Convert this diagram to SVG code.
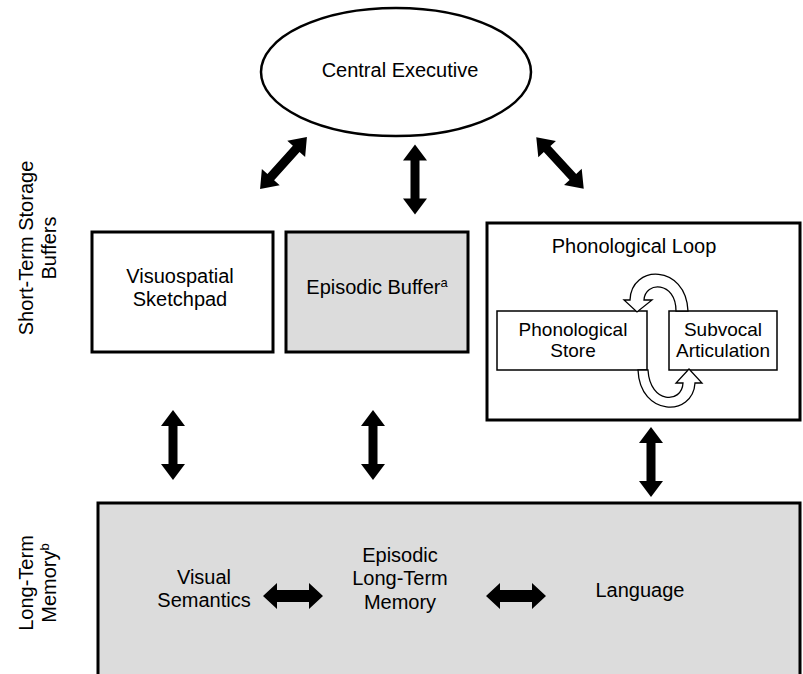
<svg xmlns="http://www.w3.org/2000/svg" xmlns:xlink="http://www.w3.org/1999/xlink" width="803" height="674" viewBox="0 0 803 674">
<style>
text{font-family:"Liberation Sans",Arial,sans-serif;font-size:20px;fill:#000;text-anchor:middle}
.sm{font-size:19px}
.box{stroke:#000;stroke-width:3;fill:#fff}
.grey{fill:#dcdcdc}
.inner{stroke:#000;stroke-width:1.5;fill:#fff}
.loop{stroke:#000;stroke-width:1.3;fill:#fff;stroke-linejoin:miter}
.arr{fill:#000}
</style>
<defs>
<path id="dbl" d="M0,-35 L12,-19 L4.5,-19 L4.5,19 L12,19 L0,35 L-12,19 L-4.5,19 L-4.5,-19 L-12,-19 Z"/>
<path id="dblh" d="M-30,0 L-16,-13 L-16,-6 L16,-6 L16,-13 L30,0 L16,13 L16,6 L-16,6 L-16,13 Z"/>
</defs>
<g id="central-executive">
<ellipse cx="396" cy="72" rx="135" ry="64" fill="#fff" stroke="#000" stroke-width="2.5"/>
<text x="400" y="77">Central Executive</text>
</g>
<g id="stm-label">
<text transform="translate(33,248) rotate(-90)" font-size="21">Short-Term Storage</text>
<text transform="translate(56,248) rotate(-90)" font-size="21">Buffers</text>
</g>
<g id="ltm-label">
<text transform="translate(33,583) rotate(-90)">Long-Term</text>
<text transform="translate(56,583) rotate(-90)">Memory<tspan font-size="13" dy="-7">b</tspan></text>
</g>
<g id="visuospatial">
<rect class="box" x="92" y="232" width="181" height="120"/>
<text x="180" y="283">Visuospatial</text>
<text x="180" y="306">Sketchpad</text>
</g>
<g id="episodic-buffer">
<rect class="box grey" x="286" y="232" width="182" height="120"/>
<text x="377" y="294">Episodic Buffer<tspan font-size="13" dy="-7">a</tspan></text>
</g>
<g id="phonological-loop">
<rect class="box" x="487" y="223" width="313" height="197"/>
<text x="634" y="253">Phonological Loop</text>
</g>
<g id="phonological-store">
<rect class="inner" x="497" y="311" width="150" height="59"/>
<text class="sm" x="573" y="336">Phonological</text>
<text class="sm" x="573" y="357">Store</text>
</g>
<g id="subvocal-articulation">
<rect class="inner" x="669" y="311" width="108" height="59"/>
<text class="sm" x="723" y="336">Subvocal</text>
<text class="sm" x="723" y="357">Articulation</text>
</g>
<g id="long-term-memory">
<rect class="box grey" x="98" y="503" width="702" height="180"/>
</g>
<g id="visual-semantics">
<text x="204" y="584">Visual</text>
<text x="204" y="607">Semantics</text>
</g>
<g id="episodic-ltm">
<text x="400" y="562">Episodic</text>
<text x="400" y="585">Long-Term</text>
<text x="400" y="609">Memory</text>
</g>
<g id="language">
<text x="640" y="597">Language</text>
</g>
<g id="connectors">
<use href="#dbl" class="arr" transform="translate(283.5,163) rotate(42)"/>
<use href="#dbl" class="arr" transform="translate(415,179.5)"/>
<use href="#dbl" class="arr" transform="translate(560,163) rotate(-42.7)"/>
<use href="#dbl" class="arr" transform="translate(173,445)"/>
<use href="#dbl" class="arr" transform="translate(373,445)"/>
<use href="#dbl" class="arr" transform="translate(651,462)"/>
<use href="#dblh" class="arr" transform="translate(293,596)"/>
<use href="#dblh" class="arr" transform="translate(516,596)"/>
<path class="loop" d="M688,311 C686,264 631,264 630,300 L624,300 L637,312 L652,300 L644,300 C645,281 676,281 676,311 Z"/>
<path class="loop" d="M638,370 C640,417 693,417 695,383 L702,383 L689,369 L676,383 L683,383 C682,404 650,404 648,370 Z"/>
</g>
</svg>
